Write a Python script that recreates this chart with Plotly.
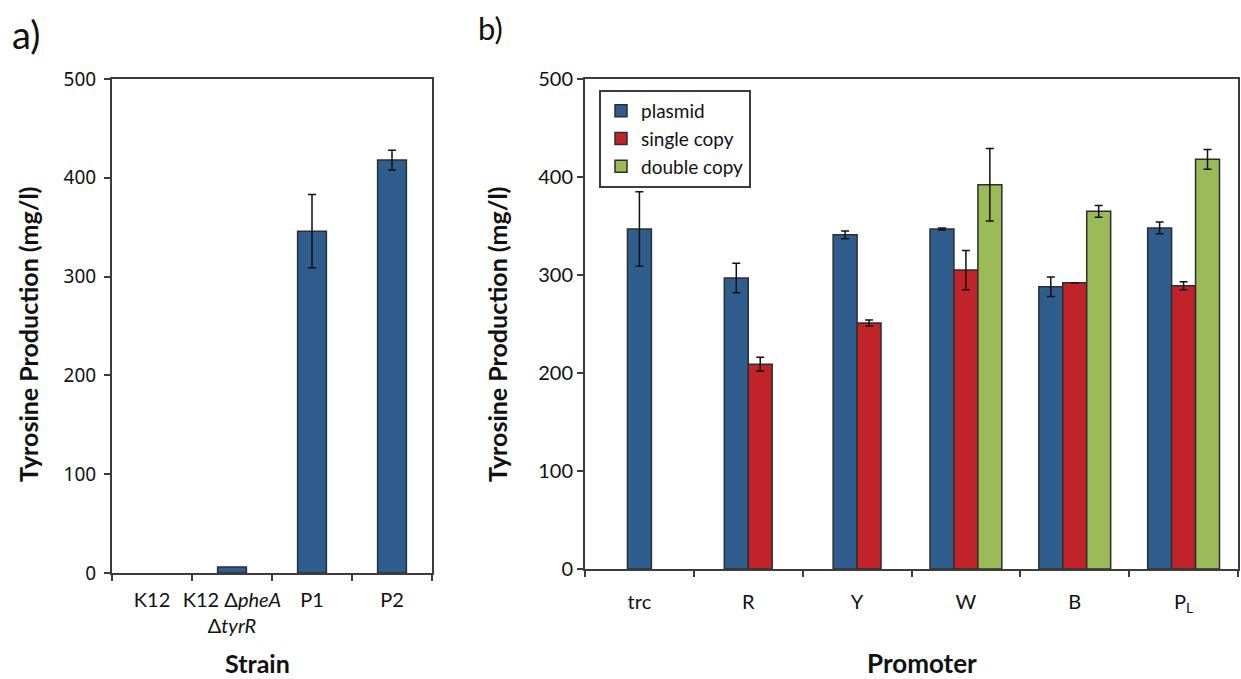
import plotly.graph_objects as go

# ---- data -------------------------------------------------------------
strains = ["K12", "K12 Δ<i>pheA</i><br>Δ<i>tyrR</i>", "P1", "P2"]
strain_tyr = [0, 6, 346, 418]
strain_err = [None, None, 37, 10]

promoters = ["trc", "R", "Y", "W", "B", "P<sub>L</sub>"]
series_names = ["plasmid", "single copy", "double copy"]
plasmid = [347, 297, 341, 347, 288, 348]
plasmid_err = [38, 15, 4, 1, 10, 6]
single_copy = [None, 209, 251, 305, 292, 289]
single_copy_err = [None, 7, 3, 20, None, 4]
double_copy = [None, None, None, 392, 365, 418]
double_copy_err = [None, None, None, 37, 6, 10]

# ---- styling ----------------------------------------------------------
W, H = 1241, 679
BLUE, RED, GREEN = "#2f5e8e", "#c0232a", "#9bbb59"
EDGE = "#2e2e2e"
AXIS = "#3c3c3c"
FONT = "Lato"
TITLE_FONT = "Lato"

def px_x(p):
    return p / W

def px_y(p):
    return (H - p) / H

fig = go.Figure()

# panel a: bars for non-zero strains, error bars only where measured
shown = [i for i, v in enumerate(strain_tyr) if v > 0]
fig.add_trace(go.Bar(
    x=[strains[i] for i in shown], y=[strain_tyr[i] for i in shown], width=0.36,
    marker=dict(color=BLUE, line=dict(color=EDGE, width=1.5)),
    xaxis="x", yaxis="y", showlegend=False, hoverinfo="x+y",
))
with_err = [i for i, e in enumerate(strain_err) if e is not None]
fig.add_trace(go.Scatter(
    x=[strains[i] for i in with_err], y=[strain_tyr[i] for i in with_err],
    mode="markers", marker=dict(size=0.1, color="rgba(0,0,0,0)"),
    error_y=dict(type="data", array=[strain_err[i] for i in with_err],
                 color="#111", thickness=1.5, width=4),
    xaxis="x", yaxis="y", showlegend=False, hoverinfo="skip",
))

# panel b: grouped series, centred on whichever series are present
bar_w = 0.22
series = [plasmid, single_copy, double_copy]
errors = [plasmid_err, single_copy_err, double_copy_err]
colors = [BLUE, RED, GREEN]
present = [[s[i] is not None for s in series] for i in range(len(promoters))]
for k, (vals, errs, col, name) in enumerate(zip(series, errors, colors, series_names)):
    offsets = []
    for i in range(len(promoters)):
        n = sum(present[i])
        idx = sum(present[i][:k])
        offsets.append(-n * bar_w / 2 + idx * bar_w)
    fig.add_trace(go.Bar(
        x=promoters, y=vals, name=name, width=bar_w, offset=offsets,
        marker=dict(color=col, line=dict(color=EDGE, width=1.5)),
        error_y=dict(type="data", array=errs, color="#111", thickness=1.5, width=4),
        xaxis="x2", yaxis="y2",
    ))

axis_common = dict(showline=True, linecolor=AXIS, linewidth=2, mirror=True,
                   showgrid=False, zeroline=False, ticks="outside",
                   ticklen=6, tickwidth=2, tickcolor=AXIS, automargin=False)

def label(text, x, y, size, angle=0, anchor="center", yanchor="middle"):
    return dict(text=text, x=px_x(x), y=px_y(y), xref="paper", yref="paper",
                xanchor=anchor, yanchor=yanchor, textangle=angle, showarrow=False,
                font=dict(size=size, family=TITLE_FONT, color="#111"))

fig.update_layout(
    width=W, height=H, margin=dict(l=0, r=0, t=0, b=0),
    paper_bgcolor="white", plot_bgcolor="white",
    barmode="overlay",
    font=dict(family=FONT, color="#111"),
    xaxis=dict(domain=[px_x(112), px_x(432)], anchor="y", tickson="boundaries",
               type="category", categoryorder="array", categoryarray=strains,
               range=[-0.5, len(strains) - 0.5],
               tickangle=0, ticklabelstandoff=8,
               tickfont=dict(size=20, family=FONT), **axis_common),
    yaxis=dict(domain=[px_y(573), px_y(79)], anchor="x", range=[0, 500], dtick=100,
               tickfont=dict(size=19, family="Noto Sans"), ticklabelstandoff=4,
               **axis_common),
    xaxis2=dict(domain=[px_x(585), px_x(1238)], anchor="y2", tickson="boundaries",
                tickangle=0, ticklabelstandoff=14,
                tickfont=dict(size=20, family=FONT), **axis_common),
    yaxis2=dict(domain=[px_y(569), px_y(79)], anchor="x2", range=[0, 500], dtick=100,
                tickfont=dict(size=20, family=FONT), **axis_common),
    legend=dict(x=px_x(599), y=px_y(90), xanchor="left", yanchor="top",
                bordercolor=AXIS, borderwidth=2, bgcolor="white",
                font=dict(size=19, family=FONT), itemwidth=30, tracegroupgap=0),
    annotations=[
        label("a)", 10, 34, 38, anchor="left"),
        label("b)", 476, 28, 31, anchor="left"),
        label("<b>Tyrosine Production (mg/l)</b>", 28, 335, 25, angle=-90),
        label("<b>Tyrosine Production (mg/l)</b>", 497, 335, 25, angle=-90),
        label("<b>Strain</b>", 257, 663, 25),
        label("<b>Promoter</b>", 922, 663, 26),
    ],
)

fig.write_html("out.html")
